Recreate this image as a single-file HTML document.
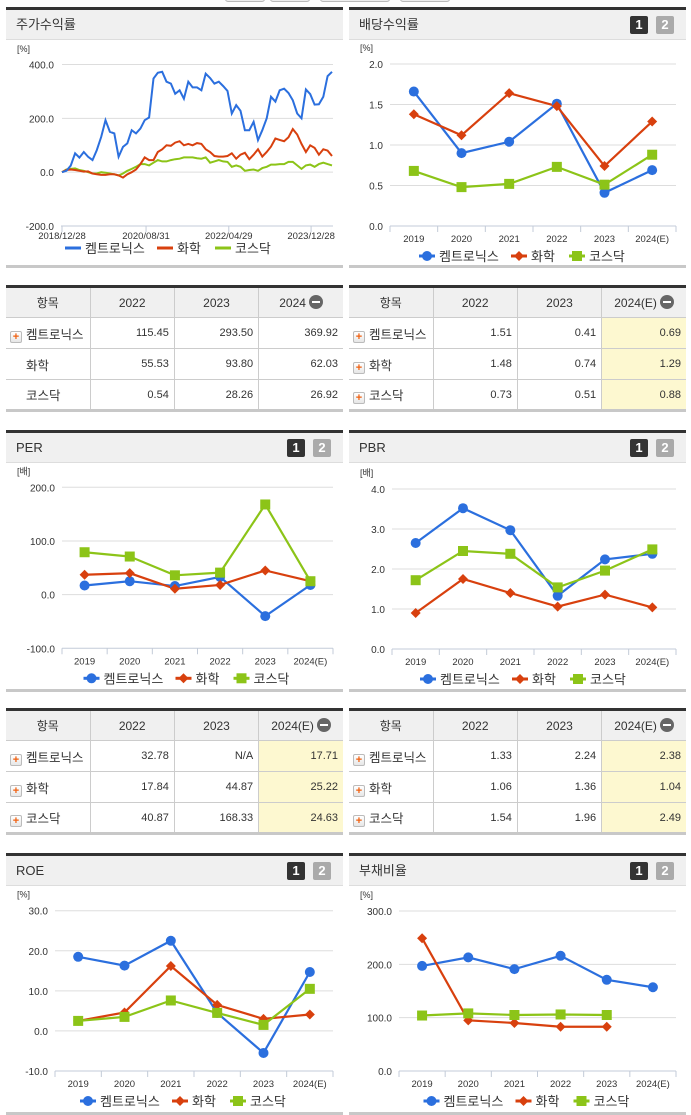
<!DOCTYPE html>
<html><head><meta charset="utf-8"><style>
*{margin:0;padding:0;box-sizing:border-box}
body{width:691px;height:1115px;background:#fff;position:relative;overflow:hidden;font-family:"Liberation Sans","Noto Sans CJK KR",sans-serif;color:#333}
.panel{position:absolute;border-top:3px solid #333;border-bottom:3px solid #c8c8c8}
.phead{position:absolute;left:0;right:0;top:0;height:30px;background:#f0f0f0;border-bottom:1px solid #ddd;font-size:13px;line-height:30px;padding-left:10px;color:#333}
.btn{position:absolute;top:6px;width:18px;height:18px;border-radius:2px;color:#fff;font-weight:bold;font-size:13px;line-height:18px;text-align:center}
.b1{background:#333}.b2{background:#aaa}
table{position:absolute;border-collapse:collapse;border-top:3px solid #333;border-bottom:3px solid #c8c8c8;font-size:11px;table-layout:fixed}
td,th{border:1px solid #ccc;height:31px;text-align:right;padding-right:5px;font-weight:normal}
th{background:#f0f0f0;text-align:center;padding:0;font-size:12px}
td.it{text-align:left;padding-left:4px;font-size:12.5px;border-left:none}
th:first-child{border-left:none} td:last-child,th:last-child{border-right:none}
td.y{background:#fdf8d0}
.plus{display:inline-block;width:12px;height:12px;border:1px solid #bbb;border-radius:2px;background:linear-gradient(#fff,#e6e6e6);color:#f06010;font-size:11px;line-height:10px;text-align:center;font-weight:bold;margin-right:4px;vertical-align:-1px}
.minus{display:inline-block;width:14px;height:14px;border-radius:7px;background:#666;position:relative;vertical-align:-2px;margin-left:3px}
.minus:after{content:"";position:absolute;left:3px;right:3px;top:6px;height:2px;background:#fff}
</style></head><body>
<div style="position:absolute;left:225px;top:-8px;width:330px;height:10px;">
 <div style="position:absolute;left:0;width:40px;height:10px;border:1px solid #bbb;border-radius:3px;background:#eee"></div>
 <div style="position:absolute;left:45px;width:40px;height:10px;border:1px solid #bbb;border-radius:3px;background:#eee"></div>
 <div style="position:absolute;left:95px;width:70px;height:10px;border:1px solid #bbb;border-radius:3px;background:#eee"></div>
 <div style="position:absolute;left:175px;width:50px;height:10px;border:1px solid #bbb;border-radius:3px;background:#eee"></div>
</div>

<div class="panel" style="left:6px;top:7px;width:337px;height:261px"><div class="phead">주가수익률</div></div>
<div class="panel" style="left:349px;top:7px;width:337px;height:261px"><div class="phead">배당수익률</div><div class="btn b1" style="left:281px">1</div><div class="btn b2" style="left:307px">2</div></div>
<div class="panel" style="left:6px;top:430px;width:337px;height:262px"><div class="phead">PER</div><div class="btn b1" style="left:281px">1</div><div class="btn b2" style="left:307px">2</div></div>
<div class="panel" style="left:349px;top:430px;width:337px;height:262px"><div class="phead">PBR</div><div class="btn b1" style="left:281px">1</div><div class="btn b2" style="left:307px">2</div></div>
<div class="panel" style="left:6px;top:853px;width:337px;height:262px"><div class="phead">ROE</div><div class="btn b1" style="left:281px">1</div><div class="btn b2" style="left:307px">2</div></div>
<div class="panel" style="left:349px;top:853px;width:337px;height:262px"><div class="phead">부채비율</div><div class="btn b1" style="left:281px">1</div><div class="btn b2" style="left:307px">2</div></div>

<table style="left:6px;top:285px;width:337px">
<tr><th style="width:84px">항목</th><th>2022</th><th>2023</th><th>2024<span class="minus"></span></th></tr>
<tr><td class="it"><span class="plus">+</span>켐트로닉스</td><td>115.45</td><td>293.50</td><td>369.92</td></tr>
<tr><td class="it" style="padding-left:20px">화학</td><td>55.53</td><td>93.80</td><td>62.03</td></tr>
<tr><td class="it" style="padding-left:20px">코스닥</td><td>0.54</td><td>28.26</td><td>26.92</td></tr>
</table>
<table style="left:349px;top:285px;width:337px">
<tr><th style="width:84px">항목</th><th>2022</th><th>2023</th><th>2024(E)<span class="minus"></span></th></tr>
<tr><td class="it"><span class="plus">+</span>켐트로닉스</td><td>1.51</td><td>0.41</td><td class="y">0.69</td></tr>
<tr><td class="it"><span class="plus">+</span>화학</td><td>1.48</td><td>0.74</td><td class="y">1.29</td></tr>
<tr><td class="it"><span class="plus">+</span>코스닥</td><td>0.73</td><td>0.51</td><td class="y">0.88</td></tr>
</table>
<table style="left:6px;top:708px;width:337px">
<tr><th style="width:84px">항목</th><th>2022</th><th>2023</th><th>2024(E)<span class="minus"></span></th></tr>
<tr><td class="it"><span class="plus">+</span>켐트로닉스</td><td>32.78</td><td>N/A</td><td class="y">17.71</td></tr>
<tr><td class="it"><span class="plus">+</span>화학</td><td>17.84</td><td>44.87</td><td class="y">25.22</td></tr>
<tr><td class="it"><span class="plus">+</span>코스닥</td><td>40.87</td><td>168.33</td><td class="y">24.63</td></tr>
</table>
<table style="left:349px;top:708px;width:337px">
<tr><th style="width:84px">항목</th><th>2022</th><th>2023</th><th>2024(E)<span class="minus"></span></th></tr>
<tr><td class="it"><span class="plus">+</span>켐트로닉스</td><td>1.33</td><td>2.24</td><td class="y">2.38</td></tr>
<tr><td class="it"><span class="plus">+</span>화학</td><td>1.06</td><td>1.36</td><td class="y">1.04</td></tr>
<tr><td class="it"><span class="plus">+</span>코스닥</td><td>1.54</td><td>1.96</td><td class="y">2.49</td></tr>
</table>

<svg id="charts" width="691" height="1115" style="position:absolute;left:0;top:0"></svg>
<script>
// ---- stock return (주가수익률) ----
const srTicks = ["2018/12/28","2020/08/31","2022/04/29","2023/12/28"];
const srTickIdx = [0,19.3,38.3,57.2];
const srChem = [0,5,24,70,54,75,57,45,82,131,193,150,144,57,94,107,156,144,162,193,203,348,369,373,336,329,291,304,273,336,315,315,304,366,350,329,336,320,302,218,249,228,156,156,187,119,156,200,280,262,304,310,294,267,218,200,307,290,251,252,280,357,373];
const srIndustry = [0,8,10,8,5,2,3,-5,-8,-10,-10,-8,-8,-12,-20,-8,0,10,30,55,45,45,75,85,100,98,110,115,100,105,100,108,105,85,75,60,58,58,60,70,50,65,72,48,65,85,58,75,95,125,120,115,130,160,140,105,75,100,90,65,85,80,60];
const srKosdaq = [0,10,12,14,8,5,0,-5,-5,0,-2,-5,-8,-12,-5,5,12,20,30,30,25,35,45,40,40,45,48,50,55,55,55,52,50,55,35,40,45,40,38,20,25,20,5,8,10,5,15,20,28,28,30,30,38,38,25,12,25,28,20,30,35,30,25];
const srYTicks = [400,200,0,-200];
// ---- yearly charts ----
const years = ["2019","2020","2021","2022","2023","2024(E)"];
const divChem = [1.66,0.90,1.04,1.51,0.41,0.69];
const divIndustry = [1.38,1.12,1.64,1.48,0.74,1.29];
const divKosdaq = [0.68,0.48,0.52,0.73,0.51,0.88];
const divYTicks = [2.0,1.5,1.0,0.5,0.0];
const perChem = [17,25,16,33,-40,18];
const perIndustry = [37,40,11,18,45,25];
const perKosdaq = [79,71,36,41,168,25];
const perYTicks = [200,100,0,-100];
const pbrChem = [2.65,3.52,2.97,1.33,2.24,2.38];
const pbrIndustry = [0.90,1.75,1.40,1.06,1.36,1.04];
const pbrKosdaq = [1.72,2.45,2.38,1.54,1.96,2.49];
const pbrYTicks = [4.0,3.0,2.0,1.0,0.0];
const roeChem = [18.5,16.3,22.5,4.5,-5.5,14.7];
const roeIndustry = [2.5,4.6,16.2,6.5,3.0,4.1];
const roeKosdaq = [2.5,3.5,7.6,4.5,1.5,10.5];
const roeYTicks = [30,20,10,0,-10];
const debtChem = [197,213,191,216,171,157];
const debtIndustry = [249,95,90,83,83,null];
const debtKosdaq = [104,108,105,106,105,null];
const debtYTicks = [300,200,100,0];
const seriesNames = ["켐트로닉스","화학","코스닥"];

const BLUE="#2b6fde", RED="#d8400e", GREEN="#8cc418";
const svg=document.getElementById('charts');
const NS="http://www.w3.org/2000/svg";
function mk(tag,attrs,parent){const e=document.createElementNS(NS,tag);for(const k in attrs)e.setAttribute(k,attrs[k]);(parent||svg).appendChild(e);return e;}
function txt(x,y,s,anchor,size,parent){const t=mk('text',{x:x,y:y,'text-anchor':anchor,'font-size':size,fill:'#333','font-family':'Liberation Sans, Noto Sans CJK KR, sans-serif'},parent);t.textContent=s;return t;}
function marker(g,kind,x,y,color){
  let m;
  if(kind==0) m=mk('circle',{cx:x,cy:y,r:5,fill:color},g);
  else if(kind==1) m=mk('path',{d:`M${x} ${y-5}L${x+5} ${y}L${x} ${y+5}L${x-5} ${y}Z`,fill:color},g);
  else m=mk('rect',{x:x-5,y:y-5,width:10,height:10,fill:color},g);
  
  
}
function legend(cx,y,lineOnly){
  const g=mk('g',{});
  
  
  const cols=[BLUE,RED,GREEN];const w=[62,28,40];
  const total=w.reduce((a,b)=>a+b,0)+3*22+16;
  let x=cx-total/2;
  seriesNames.forEach((n,i)=>{
    const e=mk('g',{},g);
    
    
    mk('line',{x1:x,y1:y,x2:x+16,y2:y,stroke:cols[i],'stroke-width':3},e);
    if(!lineOnly) marker(e,i,x+8,y,cols[i]);
    txt(x+20,y+5,n,'start',13,e);
    x+=22+w[i]+8;
  });
}
function yearChart(o){
  const g=mk('g',{});
  
  
  const ymin=o.ticks[o.ticks.length-1], ymax=o.ticks[0];
  const ys=v=>o.bottom-(v-ymin)/(ymax-ymin)*(o.bottom-o.top);
  const n=years.length, cw=(o.right-o.left)/n;
  const xs=i=>o.left+cw*(i+0.5);
  txt(o.unitX,o.top-13,o.unit,'start',9,g);
  o.ticks.forEach(t=>{
    const y=ys(t);
    if(t!==ymin) mk('line',{x1:o.left,y1:y,x2:o.right,y2:y,stroke:'#ddd','stroke-width':1},g);
    txt(o.left-7,y+4,t.toFixed(1),'end',10,g);
  });
  mk('line',{x1:o.left,y1:o.bottom,x2:o.right,y2:o.bottom,stroke:'#c3cbd8','stroke-width':1},g);
  for(let i=0;i<=n;i++) mk('line',{x1:o.left+cw*i,y1:o.bottom,x2:o.left+cw*i,y2:o.bottom+6,stroke:'#c3cbd8'},g);
  years.forEach((yr,i)=>txt(xs(i),o.bottom+16,yr,'middle',9.5,g));
  const cols=[BLUE,RED,GREEN];
  o.series.forEach((s,k)=>{
    let d='';s.forEach((v,i)=>{if(v===null)return;d+=(d?'L':'M')+xs(i)+' '+ys(v);});
    const p=mk('path',{d:d,fill:'none',stroke:cols[k],'stroke-width':2.2},g);
    
    
  });
  o.series.forEach((s,k)=>s.forEach((v,i)=>{if(v!==null)marker(g,k,xs(i),ys(v),cols[k]);}));
  legend((o.left+o.right)/2-8+(o.legDx||0),o.bottom+30,false);
}
// stock return line chart
(function(){
  const g=mk('g',{});
  
  
  const L=62,R=332,T=64.5,B=226, ymin=-200,ymax=400;
  const ys=v=>B-(v-ymin)/(ymax-ymin)*(B-T);
  const N=srChem.length-1;
  const xs=i=>L+i/N*(R-L);
  txt(17,52,'[%]','start',9,g);
  srYTicks.forEach(t=>{const y=ys(t);if(t!==ymin)mk('line',{x1:L,y1:y,x2:R+1,y2:y,stroke:'#ddd'},g);txt(L-8,y+4,t.toFixed(1),'end',10,g);});
  mk('line',{x1:L-1,y1:B,x2:R+1,y2:B,stroke:'#c3cbd8'},g);
  srTicks.forEach((t,i)=>{const x=xs(srTickIdx[i]);mk('line',{x1:x,y1:B,x2:x,y2:B+6,stroke:'#c3cbd8'},g);txt(x,B+13,t,'middle',9.5,g);});
  [[srKosdaq,GREEN],[srIndustry,RED],[srChem,BLUE]].forEach(([s,c])=>{
    const p=mk('path',{d:s.map((v,i)=>(i?'L':'M')+xs(i).toFixed(1)+' '+ys(v).toFixed(1)).join(''),fill:'none',stroke:c,'stroke-width':2},g);
    
    
  });
  legend(171,248,true);
})();
yearChart({name:'dividend-chart',left:390,right:676,top:64,bottom:226,ticks:divYTicks,series:[divChem,divIndustry,divKosdaq],unit:'[%]',unitX:360});
yearChart({name:'per-chart',left:62,right:333,top:487.3,bottom:648.3,ticks:perYTicks,series:[perChem,perIndustry,perKosdaq],unit:'[배]',unitX:17});
yearChart({name:'pbr-chart',left:392,right:676,top:489,bottom:649,ticks:pbrYTicks,series:[pbrChem,pbrIndustry,pbrKosdaq],unit:'[배]',unitX:360});
yearChart({name:'roe-chart',left:55,right:333,top:910.7,bottom:1071,ticks:roeYTicks,series:[roeChem,roeIndustry,roeKosdaq],unit:'[%]',unitX:17});
yearChart({name:'debt-ratio-chart',left:399,right:676,top:911,bottom:1071,ticks:debtYTicks,series:[debtChem,debtIndustry,debtKosdaq],unit:'[%]',unitX:360});
</script>
</body></html>
